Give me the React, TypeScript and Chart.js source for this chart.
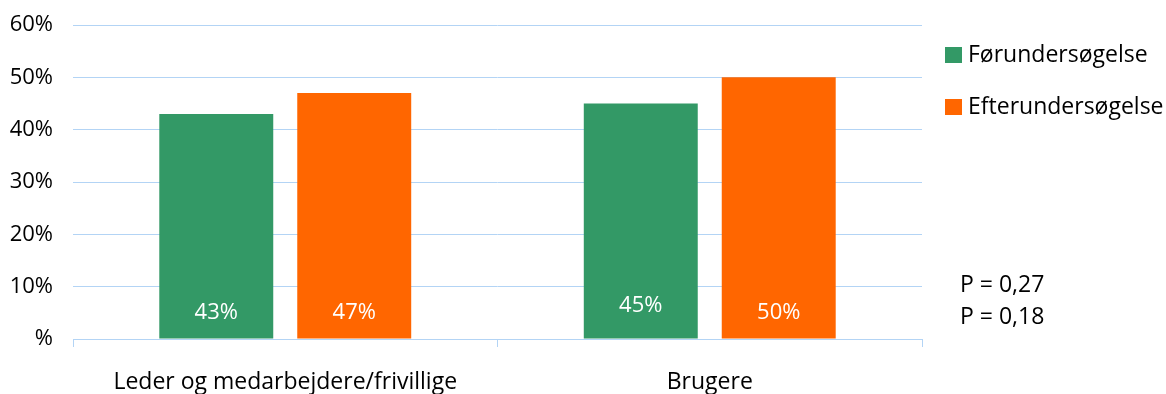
import React, { useEffect, useRef } from "react";
import { Chart, registerables } from "chart.js";

Chart.register(...registerables);

const categories = ["Leder og medarbejdere/frivillige", "Brugere"];
const seriesNames = ["Førundersøgelse", "Efterundersøgelse"];
const forValues = [43, 45];
const efterValues = [47, 50];
const yTicks = [0, 10, 20, 30, 40, 50, 60];
const pValues = ["P = 0,27", "P = 0,18"];

const GREEN = "#339966";
const ORANGE = "#FF6600";
const GRID = "#b3d4f5";
const FONT = "'Open Sans', sans-serif";

export default function App() {
  const ref = useRef<HTMLCanvasElement | null>(null);

  useEffect(() => {
    const canvas = ref.current;
    if (!canvas) return;

    const overlay = {
      id: "overlay",
      afterDatasetsDraw(chart: any) {
        const ctx = chart.ctx;
        ctx.save();
        ctx.font = `22px ${FONT}`;
        ctx.fillStyle = "#ffffff";
        ctx.textAlign = "center";
        ctx.textBaseline = "middle";
        const base = chart.scales.y.getPixelForValue(0);
        chart.data.datasets.forEach((ds: any, di: number) => {
          const meta = chart.getDatasetMeta(di);
          meta.data.forEach((bar: any, i: number) => {
            const lift = di === 0 && i === 1 ? 33 : 26;
            ctx.fillText(`${ds.data[i]}%`, bar.x, base - lift);
          });
        });
        ctx.restore();
      },
      afterDraw(chart: any) {
        const ctx = chart.ctx;
        ctx.save();
        ctx.font = `23px ${FONT}`;
        ctx.textBaseline = "middle";
        ctx.textAlign = "left";
        const colors = [GREEN, ORANGE];
        const ys = [55, 107];
        seriesNames.forEach((name, i) => {
          ctx.fillStyle = colors[i];
          ctx.fillRect(945, ys[i] - 8, 17, 16);
          ctx.fillStyle = "#000000";
          ctx.fillText(name, 968, ys[i]);
        });
        const pys = [285, 317];
        pValues.forEach((t, i) => {
          ctx.fillStyle = "#000000";
          ctx.fillText(t, 960, pys[i]);
        });
        ctx.restore();
      },
    };

    const chart = new Chart(canvas, {
      type: "bar",
      data: {
        labels: categories,
        datasets: [
          {
            label: seriesNames[0],
            data: forValues,
            backgroundColor: GREEN,
            categoryPercentage: 0.65,
            barPercentage: 0.826,
          },
          {
            label: seriesNames[1],
            data: efterValues,
            backgroundColor: ORANGE,
            categoryPercentage: 0.65,
            barPercentage: 0.826,
          },
        ],
      },
      options: {
        responsive: false,
        animation: false,
        devicePixelRatio: 1,
        layout: { padding: { left: 0, right: 244, top: 25, bottom: 0 } },
        plugins: {
          legend: { display: false },
          tooltip: { enabled: false },
        },
        scales: {
          x: {
            grid: {
              offset: true,
              drawOnChartArea: false,
              drawTicks: true,
              tickLength: 8,
              color: GRID,
            },
            border: { display: true, color: GRID, width: 1 },
            ticks: {
              color: "#000000",
              font: { family: FONT, size: 23 },
              padding: 22,
            },
            afterFit(scale: any) {
              scale.height = 55;
              scale.paddingLeft = 0;
              scale.paddingRight = 0;
            },
          },
          y: {
            min: 0,
            max: 60,
            afterBuildTicks(scale: any) {
              scale.ticks = yTicks.map((v) => ({ value: v }));
            },
            grid: { color: GRID, drawTicks: false, lineWidth: 1 },
            border: { display: false },
            ticks: {
              color: "#000000",
              font: { family: FONT, size: 22 },
              padding: 20,
              callback: (v: any) => (Number(v) === 0 ? "%" : `${v}%`),
            },
            afterFit(scale: any) {
              scale.width = 73;
              scale.paddingTop = 0;
              scale.paddingBottom = 0;
            },
          },
        },
      },
      plugins: [overlay],
    });

    return () => chart.destroy();
  }, []);

  return (
    <div style={{ position: "fixed", left: 0, top: 0, width: 1166, height: 394, background: "#ffffff" }}>
      <canvas ref={ref} width={1166} height={394} />
    </div>
  );
}
